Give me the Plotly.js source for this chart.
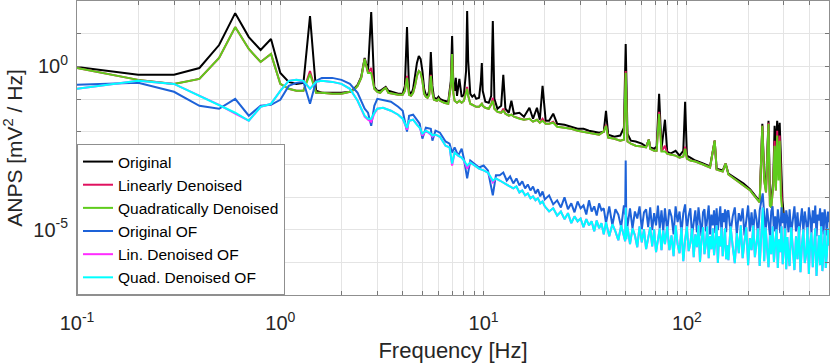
<!DOCTYPE html>
<html>
<head>
<meta charset="utf-8">
<script src="https://cdn.plot.ly/plotly-3.0.1.min.js"></script>
<style>
  html, body { margin: 0; padding: 0; background: #fff; }
  #anps_chart { width: 831px; height: 363px; }
</style>
</head>
<body>
<div id="anps_chart"></div>
<script>
// spectra (Hz, mV^2/Hz)
const freqMain = [
  0.1, 0.2, 0.3, 0.4, 0.5, 0.6, 0.7, 0.8, 0.9, 1.0,
  1.1, 1.2, 1.3, 1.4, 1.5, 1.6, 1.8, 2.0, 2.2, 2.3,
  2.4, 2.5, 2.6, 2.7, 2.8, 2.9, 3.0, 3.1, 3.2, 3.3,
  3.4, 3.6, 3.8, 4.0, 4.1, 4.2, 4.3, 4.4, 4.5, 4.6,
  4.7, 4.8, 4.9, 5.0, 5.1, 5.2, 5.3, 5.4, 5.5, 5.6,
  5.7, 5.9, 6.0, 6.1, 6.4, 6.7, 6.9, 7.0, 7.1, 7.2,
  7.3, 7.4, 7.6, 7.8, 8.0, 8.2, 8.3, 8.4, 8.6, 8.8,
  9.0, 9.2, 9.5, 9.7, 9.8, 9.9, 10.2, 10.6, 10.9, 11.1,
  11.3, 11.7, 12.2, 12.5, 12.8, 13.3, 13.7, 14.1, 15.0, 15.8,
  16.8, 17.5, 18.3, 18.9, 19.5, 20.2, 21.0, 22.0, 23.0, 25.0,
  27, 29, 31, 33, 35, 37, 39, 40, 41, 44,
  47, 49, 50, 51, 53, 56, 60, 63, 65, 66,
  69, 71, 73, 75, 78, 80, 83, 88, 92, 96,
  98, 100, 104, 110, 120, 130, 137, 140, 150, 155,
  160, 175, 190, 205, 210, 220, 228, 235, 240, 245,
  252, 256, 260, 266, 270, 274, 278, 282, 286, 290,
  295, 300
];

const originalAnps = [
  0.96, 0.55, 0.55, 0.89, 4.49, 42.5, 7.87, 3.16, 6.84, 0.63,
  0.334, 0.29, 0.312, 34.4, 0.178, 0.155, 0.155, 0.155, 0.166, 0.205,
  0.271, 0.475, 1.8, 0.72, 45.6, 0.235, 0.178, 0.178, 0.205, 0.235,
  0.178, 0.155, 0.144, 0.144, 0.252, 15.9, 0.178, 0.134, 0.205, 0.51,
  1.27, 2.08, 1.68, 0.72, 0.205, 0.134, 0.125, 0.178, 2.75, 0.252,
  0.109, 0.101, 0.117, 0.101, 0.0881, 0.0822, 0.359, 8.45, 0.252, 0.178,
  0.443, 0.125, 0.413, 0.117, 0.134, 0.72, 49, 1.46, 0.144, 0.117,
  0.134, 0.101, 0.109, 0.359, 1.27, 0.178, 0.0822, 0.0766, 0.125, 24.2,
  0.101, 0.0503, 0.0621, 0.55, 0.0503, 0.038, 0.0881, 0.0354, 0.038, 0.0287,
  0.0539, 0.0249, 0.0539, 0.0232, 0.252, 0.0216, 0.0216, 0.0354, 0.0175, 0.0163,
  0.0142, 0.0123, 0.0123, 0.0107, 0.01, 0.0093, 0.01, 0.0437, 0.0081, 0.007,
  0.0076, 0.0132, 4.82, 0.0087, 0.0053, 0.005, 0.0043, 0.0035, 0.0057, 0.0033,
  0.003, 0.0035, 0.144, 0.003, 0.0232, 0.00246, 0.00213, 0.0026, 0.00185, 0.0026,
  0.0822, 0.00185, 0.00161, 0.00131, 0.00106, 0.00086, 0.0053, 0.00074, 0.00065, 0.00106,
  0.00052, 0.00037, 0.00026, 0.000171, 0.000138, 9.8e-5, 7.3e-5, 0.0175, 0.00046, 0.000226,
  0.0216, 0.000112, 7.9e-5, 0.00032, 0.0152, 0.0026, 0.0216, 0.0053, 0.0188, 0.0008,
  7.9e-5, 2.7e-5
];

const linearAnps = [
  0.89, 0.385, 0.29, 0.413, 1.8, 15.9, 3.39, 1.36, 2.39, 0.29,
  0.205, 0.178, 0.178, 0.72, 0.155, 0.155, 0.144, 0.144, 0.166, 0.191,
  0.252, 0.443, 1.68, 0.63, 0.89, 0.205, 0.166, 0.155, 0.191, 0.219,
  0.155, 0.144, 0.134, 0.134, 0.178, 0.51, 0.134, 0.125, 0.155, 0.252,
  0.51, 0.72, 0.63, 0.359, 0.144, 0.117, 0.109, 0.134, 0.55, 0.155,
  0.0945, 0.0881, 0.101, 0.0881, 0.0766, 0.0714, 0.252, 2.39, 0.155, 0.0881,
  0.0822, 0.0766, 0.0881, 0.0766, 0.0881, 0.155, 0.235, 0.125, 0.0714, 0.0666,
  0.0621, 0.0578, 0.0578, 0.0666, 0.0714, 0.0621, 0.0539, 0.0503, 0.0666, 0.109,
  0.0503, 0.0407, 0.038, 0.0503, 0.0354, 0.0308, 0.033, 0.0287, 0.0249, 0.0232,
  0.0249, 0.0202, 0.0232, 0.0188, 0.0249, 0.0175, 0.0175, 0.0202, 0.0142, 0.0132,
  0.0123, 0.0107, 0.01, 0.0093, 0.0087, 0.0081, 0.01, 0.0163, 0.0066, 0.0061,
  0.0053, 0.0057, 0.72, 0.005, 0.0043, 0.0037, 0.0035, 0.0033, 0.0057, 0.003,
  0.0026, 0.0026, 0.0407, 0.00246, 0.0037, 0.00213, 0.00199, 0.00185, 0.00161, 0.00173,
  0.0035, 0.0015, 0.00131, 0.00122, 0.00099, 0.0008, 0.0053, 0.00069, 0.0006, 0.00106,
  0.00049, 0.00032, 0.000226, 0.000159, 0.000129, 9.1e-5, 6.9e-5, 0.0152, 0.00032, 0.000138,
  0.0188, 5.5e-5, 4.8e-5, 0.000226, 0.0053, 0.000159, 0.0107, 0.00092, 0.0076, 0.00032,
  3.2e-5, 2.2e-5
];

const quadraticAnps = [
  0.89, 0.385, 0.29, 0.413, 1.8, 15.9, 3.39, 1.36, 2.39, 0.29,
  0.205, 0.178, 0.178, 0.59, 0.155, 0.155, 0.144, 0.144, 0.166, 0.191,
  0.252, 0.443, 1.68, 0.63, 0.63, 0.205, 0.166, 0.155, 0.191, 0.219,
  0.155, 0.144, 0.134, 0.134, 0.178, 0.443, 0.134, 0.125, 0.155, 0.252,
  0.51, 0.72, 0.63, 0.359, 0.144, 0.117, 0.109, 0.134, 0.51, 0.155,
  0.0945, 0.0881, 0.101, 0.0881, 0.0766, 0.0714, 0.252, 2.39, 0.155, 0.0881,
  0.0822, 0.0766, 0.0881, 0.0766, 0.0881, 0.155, 0.205, 0.125, 0.0714, 0.0666,
  0.0621, 0.0578, 0.0578, 0.0666, 0.0714, 0.0621, 0.0539, 0.0503, 0.0666, 0.0881,
  0.0503, 0.0407, 0.038, 0.0437, 0.0354, 0.0308, 0.033, 0.0287, 0.0249, 0.0232,
  0.0249, 0.0202, 0.0232, 0.0188, 0.0216, 0.0175, 0.0175, 0.0188, 0.0142, 0.0132,
  0.0123, 0.0107, 0.01, 0.0093, 0.0087, 0.0081, 0.01, 0.0152, 0.0066, 0.0061,
  0.0053, 0.0057, 0.63, 0.005, 0.0043, 0.0037, 0.0035, 0.0033, 0.0057, 0.003,
  0.0026, 0.0026, 0.0354, 0.00246, 0.00246, 0.00213, 0.00199, 0.00185, 0.00161, 0.00173,
  0.003, 0.0015, 0.00131, 0.00122, 0.00099, 0.0008, 0.0053, 0.00069, 0.0006, 0.00106,
  0.00049, 0.00032, 0.000226, 0.000159, 0.000129, 9.1e-5, 6.9e-5, 0.0152, 0.00032, 0.000138,
  0.0175, 5.5e-5, 4.8e-5, 0.000226, 0.0037, 0.000159, 0.0076, 0.00032, 0.0053, 0.000112,
  3.2e-5, 2.2e-5
];

// output-filter (OF) spectra, smooth low part
const freqOfLow = [
  0.1, 0.2, 0.3, 0.4, 0.5, 0.6, 0.7, 0.8, 0.9, 1.0,
  1.1, 1.2, 1.3, 1.4, 1.5, 1.6, 1.8, 2.0, 2.2, 2.4,
  2.6, 2.7, 2.8, 2.9, 3.0, 3.2, 3.5, 3.8, 4.0, 4.2,
  4.3, 4.5, 4.7, 4.85, 5.0, 5.2, 5.5, 5.6, 5.8, 6.1,
  6.5, 6.8, 7.0, 7.2, 7.5, 7.8, 8.0, 8.3, 8.6, 9.0,
  9.5, 10.0, 10.5, 11.1, 11.5
];
const originalOfLow = [
  0.271, 0.312, 0.166, 0.0621, 0.0503, 0.101, 0.0308, 0.0621, 0.0666, 0.0945,
  0.252, 0.312, 0.334, 0.0714, 0.359, 0.443, 0.443, 0.385, 0.29, 0.155,
  0.0503, 0.038, 0.0152, 0.0621, 0.101, 0.0945, 0.0822, 0.0578, 0.0437, 0.01,
  0.0308, 0.033, 0.0232, 0.0175, 0.0061, 0.0132, 0.0123, 0.0053, 0.0107, 0.0093,
  0.005, 0.0043, 0.00229, 0.0033, 0.00185, 0.003, 0.0015, 0.00037, 0.00131, 0.00106,
  0.0008, 0.00092, 0.00065, 0.000112, 0.00046
];
const linOfLow = [
  0.205, 0.359, 0.29, 0.125, 0.0666, 0.0354, 0.0216, 0.0578, 0.0714, 0.178,
  0.359, 0.385, 0.359, 0.205, 0.334, 0.359, 0.334, 0.29, 0.205, 0.0881,
  0.0287, 0.0232, 0.0202, 0.0354, 0.0503, 0.0539, 0.0437, 0.033, 0.0249, 0.0115,
  0.0216, 0.0232, 0.0163, 0.0132, 0.0076, 0.0107, 0.0081, 0.007, 0.0081, 0.007,
  0.0037, 0.0033, 0.00092, 0.00229, 0.00185, 0.00161, 0.00131, 0.00074, 0.00114, 0.00092,
  0.00074, 0.00065, 0.00056, 0.00028, 0.00037
];
const quadOfLow = [
  0.205, 0.359, 0.29, 0.125, 0.0666, 0.038, 0.0216, 0.0578, 0.0714, 0.178,
  0.359, 0.385, 0.359, 0.205, 0.334, 0.359, 0.334, 0.29, 0.205, 0.0881,
  0.0308, 0.0249, 0.0249, 0.038, 0.0503, 0.0539, 0.0437, 0.033, 0.0249, 0.0132,
  0.0216, 0.0232, 0.0163, 0.0132, 0.0087, 0.0107, 0.0087, 0.0076, 0.0081, 0.007,
  0.0037, 0.0033, 0.00106, 0.00229, 0.00185, 0.00161, 0.00131, 0.00092, 0.00114, 0.00092,
  0.00074, 0.00065, 0.00056, 0.00032, 0.00037
];

// OF spectra, noisy part above 12 Hz
const freqOfNoise = [
  12, 12.5, 13, 13.5, 14, 14.5, 15, 15.5, 16, 16.5, 17, 17.5, 18, 18.5, 19, 19.5,
  20, 21, 22, 23, 24, 25, 26, 27, 28, 29, 30, 31, 32, 33, 34, 35, 36, 37, 38, 39,
  40, 41.5, 43, 44.5, 46, 47.5, 49, 49.7, 50, 50.3, 51, 52.5, 54, 55.5, 57, 58.5,
  60, 61.5, 63, 64.5, 66, 67.5, 69, 70.5, 72, 73.5, 75, 76.5, 78,
  80, 82, 84, 86, 88, 90, 92, 94, 96, 98, 100, 102, 104, 106, 108, 110, 112, 114, 116, 118,
  120, 122, 124, 126, 128, 130, 132, 134, 136, 138, 140, 142, 144, 146, 148, 150, 152, 154, 156, 158,
  160, 164, 168, 172, 176, 180, 184, 188, 192, 196, 200, 204, 208, 212, 216, 220, 224, 228, 232, 236,
  240, 244, 248, 252, 256, 260, 264, 268, 272, 276, 280, 284, 288, 292, 296, 300, 304, 308, 312, 316,
  320, 326, 332, 338, 344, 350, 356, 362, 368, 374, 380, 386, 392, 398, 404, 410,
  416, 422, 428, 434, 440, 446, 452, 458, 464, 470, 476, 482, 488, 494, 500
];
const originalOfNoise = [
  4.6e-4, 5.6e-4, 3.2e-4, 4.25e-4, 2.6e-4, 3.7e-4, 2.26e-4, 2.99e-4, 1.83e-4, 2.42e-4, 1.59e-4, 2.1e-4, 1.29e-4, 1.71e-4, 1.04e-4, 1.48e-4,
  8.45e-5, 1.12e-4, 5.96e-5, 7.9e-5, 4.8e-5, 9.8e-5, 4.2e-5, 6.4e-5, 3.4e-5, 7.3e-5, 4.5e-5, 5.5e-5, 2.9e-5, 7.9e-5, 3.6e-5, 5.18e-5, 2.7e-5, 6.4e-5, 3.9e-5, 4.5e-5,
  1.58e-5, 5.18e-5, 1.36e-5, 4.2e-5, 2.9e-5, 1.19e-5, 5.5e-5, 2.9e-5, 1.3e-3, 2.7e-5, 1.27e-5, 4.5e-5, 1.1e-5, 3.6e-5, 2.2e-5, 5.18e-5,
  1.03e-5, 3.4e-5, 4.2e-5, 1.19e-5, 4.8e-5, 9.6e-6, 3.2e-5, 1.36e-5, 5.5e-5, 1.1e-5, 3.9e-5, 8.9e-6, 4.5e-5,
  8.9e-6, 4.2e-5, 2.55e-5, 7.2e-6, 5.18e-5, 1.7e-5, 3.6e-5, 7.8e-6, 3.2e-5, 5.96e-5, 9.6e-6, 2.7e-5, 4.5e-5, 6.7e-6, 2.1e-5, 3.9e-5, 8.3e-6, 4.8e-5, 1.8e-5, 6.3e-6,
  3.4e-5, 4.2e-5, 8.9e-6, 2.2e-5, 5.5e-5, 7.2e-6, 2.9e-5, 1.36e-5, 3.9e-5, 7.8e-6, 4.5e-5, 9.6e-6, 2.55e-5, 5.18e-5, 6.7e-6, 3.2e-5, 1.7e-5, 4.2e-5, 8.3e-6, 3.6e-5,
  3.9e-5, 8.3e-6, 2.55e-5, 4.8e-5, 7.2e-6, 3.2e-5, 1.8e-5, 4.5e-5, 6.7e-6, 2.2e-5, 5.5e-5, 8.9e-6, 3.4e-5, 7.8e-6, 4.2e-5, 2.1e-5, 6.3e-6, 3.9e-5, 6.4e-5, 1.29e-4,
  2.9e-5, 8.3e-6, 4.5e-5, 1.7e-5, 6.7e-6, 3.6e-5, 5.18e-5, 8.9e-6, 2.55e-5, 7.2e-6, 4.2e-5, 1.9e-5, 7.8e-6, 4.8e-5, 1.58e-5, 3.2e-5, 6.3e-6, 3.9e-5, 2.2e-5, 8.3e-6,
  4.2e-5, 7.8e-6, 2.7e-5, 5.18e-5, 8.9e-6, 3.4e-5, 6.7e-6, 2.1e-5, 4.5e-5, 8.3e-6, 3.6e-5, 1.7e-5, 7.2e-6, 4.8e-5, 2.4e-5, 7.8e-6,
  3.9e-5, 1.58e-5, 5.5e-5, 6.3e-6, 2.9e-5, 1.9e-5, 4.5e-5, 8.3e-6, 3.4e-5, 7.2e-6, 4.2e-5, 2.2e-5, 6.7e-6, 3.6e-5, 1.7e-5
];
const quadOfNoise = [
  3.2e-4, 2.8e-4, 2.42e-4, 2.1e-4, 1.83e-4, 2.1e-4, 1.38e-4, 1.59e-4, 1.12e-4, 1.29e-4, 9.1e-5, 1.04e-4, 7.9e-5, 9.1e-5, 6.4e-5, 7.3e-5,
  5.18e-5, 3.6e-5, 4.5e-5, 2.7e-5, 3.6e-5, 2.1e-5, 3.2e-5, 1.58e-5, 2.55e-5, 1.8e-5, 2.2e-5, 1.19e-5, 2.1e-5, 1.36e-5, 1.8e-5, 8.9e-6, 1.9e-5, 1.1e-5, 1.58e-5, 7.2e-6,
  1.7e-5, 6.3e-6, 1.47e-5, 8.9e-6, 4.75e-6, 1.36e-5, 5.5e-6, 4.4e-6, 4.8e-5, 5.1e-6, 1.27e-5, 3.6e-6, 1.1e-5, 6.7e-6, 2.9e-6, 1.27e-5,
  4.1e-6, 1.03e-5, 2.53e-6, 6.3e-6, 1.19e-5, 3.1e-6, 1.03e-5, 2.05e-6, 5.5e-6, 1.1e-5, 2.35e-6, 9.6e-6, 3.6e-6,
  1.27e-5, 2.35e-6, 6.7e-6, 1.55e-6, 1.36e-5, 3.6e-6, 1.9e-6, 1.19e-5, 1.09e-6, 4.75e-6, 1.27e-5, 2.2e-6, 3.85e-6, 1.1e-5, 1.44e-6, 7.2e-6, 2.9e-6, 1.36e-5, 1.02e-6, 5.1e-6,
  1.19e-5, 1.78e-6, 3.6e-6, 1.27e-5, 1.34e-6, 6.3e-6, 2.53e-6, 1.1e-5, 1.66e-6, 4.4e-6, 1.36e-5, 9.5e-7, 6.3e-6, 3.1e-6, 1.19e-5, 1.55e-6, 4.4e-6, 1.1e-5, 1.25e-6, 3.3e-6,
  1.17e-6, 1.27e-5, 3.1e-6, 9.5e-7, 7.8e-6, 1.9e-6, 1.36e-5, 1.34e-6, 4.4e-6, 1.19e-5, 8.2e-7, 5.5e-6, 2.35e-6, 1.36e-5, 1.44e-6, 3.6e-6, 1.1e-5, 7.7e-7, 6.3e-6, 4.8e-5,
  1.09e-6, 1.19e-5, 2.7e-6, 7.1e-7, 6.7e-6, 1.78e-6, 1.27e-5, 1.02e-6, 4.1e-6, 1.03e-5, 6.7e-7, 5.1e-6, 2.05e-6, 1.27e-5, 8.8e-7, 3.3e-6, 1.1e-5, 6.2e-7, 5.9e-6, 1.66e-6,
  7.7e-7, 1.19e-5, 2.35e-6, 5.8e-7, 6.3e-6, 1.25e-6, 1.27e-5, 5.0e-7, 3.3e-6, 1.03e-5, 9.5e-7, 1.78e-6, 1.19e-5, 4.4e-7, 4.1e-6, 8.3e-6,
  7.1e-7, 2.53e-6, 1.1e-5, 3.8e-7, 1.44e-6, 6.7e-6, 8.2e-7, 1.27e-5, 5.4e-7, 2.9e-6, 9.6e-6, 6.7e-7, 1.66e-6, 1.1e-5, 3.3e-6
];

const seriesNames = ['Original', 'Linearly Denoised', 'Quadratically Denoised',
  'Original OF', 'Lin. Denoised OF', 'Quad. Denoised OF'];
const seriesColors = ['#000000', '#e0115f', '#5fcc1c', '#1d62d8', '#ff2cff', '#00ffff'];

const xTickVals = [0.1, 0.2, 0.3, 0.4, 0.5, 0.6, 0.7, 0.8, 0.9,
  1, 2, 3, 4, 5, 6, 7, 8, 9, 10, 20, 30, 40, 50, 60, 70, 80, 90,
  100, 200, 300, 400, 500];
const xDecadeLabels = {0.1: '10<sup>-1</sup>', 1: '10<sup>0</sup>', 10: '10<sup>1</sup>', 100: '10<sup>2</sup>'};
const yTickVals = [1e-7, 1e-6, 1e-5, 1e-4, 1e-3, 1e-2, 1e-1, 1, 10, 100];
const yDecadeLabels = {1e-5: '10<sup>-5</sup>', 1: '10<sup>0</sup>'};

const freqOf = freqOfLow.concat(freqOfNoise);
const ofValues = [
  originalOfLow.concat(originalOfNoise),
  linOfLow.concat(quadOfNoise),
  quadOfLow.concat(quadOfNoise)
];
const mainValues = [originalAnps, linearAnps, quadraticAnps];

var data = [];
for (var i = 0; i < 6; i++) {
  data.push({
    x: i < 3 ? freqMain : freqOf,
    y: i < 3 ? mainValues[i] : ofValues[i - 3],
    name: seriesNames[i],
    type: 'scatter',
    mode: 'lines',
    line: {color: seriesColors[i], width: 2}
  });
}

var font = 'Liberation Sans, Arial, sans-serif';
var gridColor = '#e4e4e4';
var boxColor = '#8f8f8f';

var layout = {
  width: 831,
  height: 363,
  margin: {l: 77, r: 2, t: 1, b: 68},
  paper_bgcolor: '#ffffff',
  plot_bgcolor: '#ffffff',
  font: {family: font, color: '#262626'},
  showlegend: true,
  hovermode: false,
  xaxis: {
    type: 'log',
    range: [-1, Math.log10(500)],
    tickmode: 'array',
    tickvals: xTickVals,
    ticktext: xTickVals.map(v => xDecadeLabels[v] || ''),
    tickfont: {size: 20, color: '#262626'},
    ticks: 'inside',
    ticklen: 4,
    tickcolor: '#777',
    ticklabelstandoff: 10,
    showgrid: true,
    gridcolor: gridColor,
    showline: true,
    linecolor: boxColor,
    linewidth: 1,
    mirror: 'ticks',
    zeroline: false,
    title: {text: 'Frequency [Hz]', font: {size: 22, color: '#262626'}, standoff: 12}
  },
  yaxis: {
    type: 'log',
    range: [-7, 2],
    tickmode: 'array',
    tickvals: yTickVals,
    ticktext: yTickVals.map(v => yDecadeLabels[v] || ''),
    tickfont: {size: 20, color: '#262626'},
    ticks: 'inside',
    ticklen: 4,
    tickcolor: '#777',
    ticklabelstandoff: 4,
    showgrid: true,
    gridcolor: gridColor,
    showline: true,
    linecolor: boxColor,
    linewidth: 1,
    mirror: 'ticks',
    zeroline: false,
    title: {text: 'ANPS [mV<sup>2</sup> / Hz]', font: {size: 21, color: '#262626'}, standoff: 6}
  },
  legend: {
    x: 0, y: 0, xanchor: 'left', yanchor: 'bottom',
    bgcolor: '#ffffff',
    bordercolor: boxColor,
    borderwidth: 1,
    font: {size: 15.5, color: '#000000', family: font}
  }
};

Plotly.newPlot('anps_chart', data, layout, {staticPlot: true, displayModeBar: false});
</script>
</body>
</html>
